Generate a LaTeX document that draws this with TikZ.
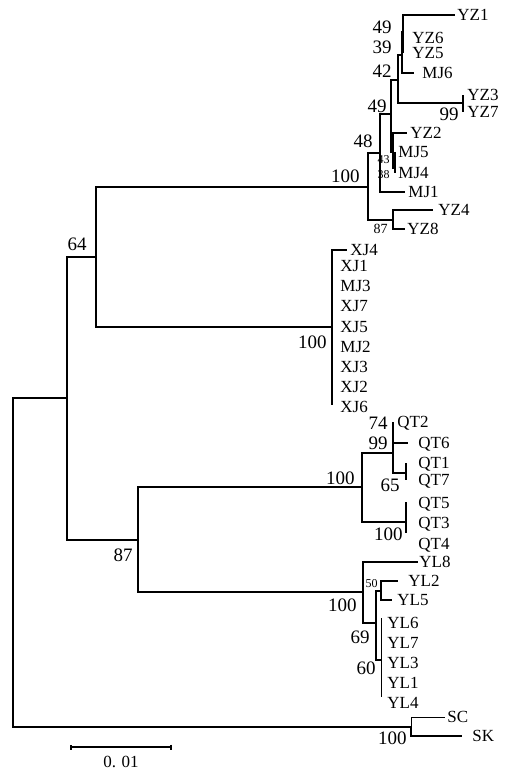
\documentclass[tikz,border=0pt]{standalone}
\usepackage{fontspec}
\setmainfont{Liberation Serif}
\usetikzlibrary{positioning,arrows.meta}

\begin{document}
\begin{tikzpicture}[x=0.5pt,y=-0.5pt,
  branch/.style={line width=1pt},
  thinbranch/.style={line width=0.5pt},
  taxon/.style={inner sep=0pt,anchor=west,text height=5.6pt,text depth=0pt,font=\fontsize{8.5}{10}\selectfont},
  boot/.style={inner sep=0pt,anchor=east,text height=6.3pt,text depth=0pt,font=\fontsize{9.5}{11}\selectfont},
  bootmid/.style={boot,text height=4.8pt,font=\fontsize{7}{8}\selectfont},
  bootsm/.style={boot,text height=4pt,font=\fontsize{6}{7}\selectfont}]
  \useasboundingbox (0,0) rectangle (505,772);
  \node[coordinate] (root) at (13,560) {};
  \node[coordinate] (nA) at (67,398) {};
  \node[coordinate] (n64) at (96,257) {};
  \node[coordinate] (n100a) at (368,187) {};
  \node[coordinate] (n48) at (380,153) {};
  \node[coordinate] (n49b) at (391,114) {};
  \node[coordinate] (n42) at (398,80) {};
  \node[coordinate] (n39) at (402,55) {};
  \node[coordinate] (n49a) at (403,32) {};
  \node[coordinate] (n99a) at (463,103) {};
  \node[coordinate] (n43) at (393,152) {};
  \node[coordinate] (n38) at (395,168) {};
  \node[coordinate] (n87b) at (393,220) {};
  \node[coordinate] (nXJ) at (332,327) {};
  \node[coordinate] (n87) at (138,540) {};
  \node[coordinate] (n100b) at (362,487) {};
  \node[coordinate] (n99b) at (393,453) {};
  \node[coordinate] (n74) at (393,432) {};
  \node[coordinate] (n65) at (406,473) {};
  \node[coordinate] (n100c) at (406,522) {};
  \node[coordinate] (n100d) at (363,592) {};
  \node[coordinate] (n69) at (376,623) {};
  \node[coordinate] (n50) at (381,591) {};
  \node[coordinate] (n60) at (381,660) {};
  \node[coordinate] (nS) at (411,727) {};

  \node[coordinate] (tYZ1) at (455,15) {};
  \node[coordinate] (tYZ6) at (403,38) {};
  \node[coordinate] (tYZ5) at (403,53) {};
  \node[coordinate] (tMJ6) at (414,73) {};
  \node[coordinate] (tYZ3) at (463,95) {};
  \node[coordinate] (tYZ7) at (463,112) {};
  \node[coordinate] (tYZ2) at (407,133) {};
  \node[coordinate] (tMJ5) at (395,152) {};
  \node[coordinate] (tMJ4) at (395,173) {};
  \node[coordinate] (tMJ1) at (405,192) {};
  \node[coordinate] (tYZ4) at (433,210) {};
  \node[coordinate] (tYZ8) at (405,229) {};
  \node[coordinate] (tXJ4) at (347,250) {};
  \node[coordinate] (tXJend) at (332,405) {};
  \node[coordinate] (tQT2) at (393,422) {};
  \node[coordinate] (tQT6) at (408,443) {};
  \node[coordinate] (tQT1) at (406,463) {};
  \node[coordinate] (tQT7) at (406,480) {};
  \node[coordinate] (tQTtop) at (406,502) {};
  \node[coordinate] (tQTend) at (406,533) {};
  \node[coordinate] (tYL8) at (418,562) {};
  \node[coordinate] (tYL2) at (398,581) {};
  \node[coordinate] (tYL5) at (392,600) {};
  \node[coordinate] (tYLtop) at (381,618) {};
  \node[coordinate] (tYLend) at (381,697) {};
  \node[coordinate] (tSC) at (445,717) {};
  \node[coordinate] (tSK) at (462,736) {};

  \foreach \p/\c in {root/nA,root/nS,nA/n64,nA/n87,n64/n100a,n64/nXJ,
      n100a/n48,n100a/n87b,n48/n49b,n48/tMJ1,n49b/n42,n49b/n43,
      n42/n39,n42/n99a,n39/n49a,n39/tMJ6,n49a/tYZ1,n49a/tYZ6,n49a/tYZ5,
      n99a/tYZ3,n99a/tYZ7,n43/tYZ2,n43/n38,n38/tMJ5,n38/tMJ4,
      n87b/tYZ4,n87b/tYZ8,nXJ/tXJ4,nXJ/tXJend,
      n87/n100b,n87/n100d,n100b/n99b,n100b/n100c,n99b/n74,n99b/n65,
      n74/tQT2,n74/tQT6,n65/tQT1,n65/tQT7,n100c/tQTtop,n100c/tQTend,
      n100d/tYL8,n100d/n69,n69/n50,n69/n60,n50/tYL2,n50/tYL5,nS/tSK}
    \draw[branch] (\p) |- (\c);
  \draw[thinbranch] (n60) |- (tYLtop);
  \draw[thinbranch] (n60) |- (tYLend);
  \draw[thinbranch] (nS) |- (tSC);

  \node[taxon,right=1pt of tYZ1] (YZ1) {YZ1};
  \node[taxon,right=4.5pt of tYZ6] (YZ6) {YZ6};
  \node[taxon,right=4.5pt of tYZ5] (YZ5) {YZ5};
  \node[taxon,right=4pt of tMJ6] (MJ6) {MJ6};
  \node[taxon,right=2pt of tYZ3] (YZ3) {YZ3};
  \node[taxon,right=2pt of tYZ7] (YZ7) {YZ7};
  \node[taxon,right=1.5pt of tYZ2] (YZ2) {YZ2};
  \node[taxon,right=1.5pt of tMJ5] (MJ5) {MJ5};
  \node[taxon,right=1.5pt of tMJ4] (MJ4) {MJ4};
  \node[taxon,right=1.5pt of tMJ1] (MJ1) {MJ1};
  \node[taxon,right=2.5pt of tYZ4] (YZ4) {YZ4};
  \node[taxon,right=1pt of tYZ8] (YZ8) {YZ8};
  \node[taxon,right=1.5pt of tXJ4] (XJ4) {XJ4};
  \foreach \n/\y in {XJ1/266,MJ3/286,XJ7/306,XJ5/327,MJ2/347,XJ3/367,XJ2/387,XJ6/407}
    \node[taxon] (\n) at (340,\y) {\n};
  \node[taxon,right=2pt of tQT2] (QT2) {QT2};
  \node[taxon,right=5pt of tQT6] (QT6) {QT6};
  \node[taxon,right=6pt of tQT1] (QT1) {QT1};
  \node[taxon,right=6pt of tQT7] (QT7) {QT7};
  \foreach \n/\y in {QT5/503,QT3/523,QT4/544}
    \node[taxon] (\n) at (418,\y) {\n};
  \node[taxon,right=0.5pt of tYL8] (YL8) {YL8};
  \node[taxon,right=5pt of tYL2] (YL2) {YL2};
  \node[taxon,right=2.5pt of tYL5] (YL5) {YL5};
  \foreach \n/\y in {YL6/623,YL7/643,YL3/663,YL1/683,YL4/703}
    \node[taxon] (\n) at (387,\y) {\n};
  \node[taxon,right=1pt of tSC] (SC) {SC};
  \node[taxon,right=5pt of tSK] (SK) {SK};

  \node[boot] (b49a) at (392,27) {49};
  \node[boot] (b39) at (392,47) {39};
  \node[boot] (b42) at (392,71) {42};
  \node[boot] (b49b) at (387,106) {49};
  \node[boot] (b99a) at (459,114) {99};
  \node[boot] (b48) at (373,141) {48};
  \node[boot] (b100a) at (360,176) {100};
  \node[bootsm] (b43) at (390,159) {43};
  \node[bootsm] (b38) at (390,174) {38};
  \node[bootmid] (b87b) at (388,229) {87};
  \node[boot] (b64) at (87,244) {64};
  \node[boot] (b100xj) at (327,342) {100};
  \node[boot] (b74) at (388,423) {74};
  \node[boot] (b99b) at (388,443) {99};
  \node[boot] (b100b) at (355,478) {100};
  \node[boot] (b65) at (400,485) {65};
  \node[boot] (b100c) at (403,534) {100};
  \node[boot] (b87) at (133,555) {87};
  \node[bootsm] (b50) at (378,583) {50};
  \node[boot] (b100d) at (357,605) {100};
  \node[boot] (b69) at (370,637) {69};
  \node[boot] (b60) at (376,668) {60};
  \node[boot] (b100s) at (407,738) {100};

  \node[coordinate] (barL) at (70,747) {};
  \node[coordinate] (barR) at (172,747) {};
  \draw[branch,{Bar[width=2.5pt]}-{Bar[width=2.5pt]}] (barL) -- (barR);
  \node[taxon,anchor=center] (scale) at (121,762) {0. 01};
\end{tikzpicture}
\end{document}
